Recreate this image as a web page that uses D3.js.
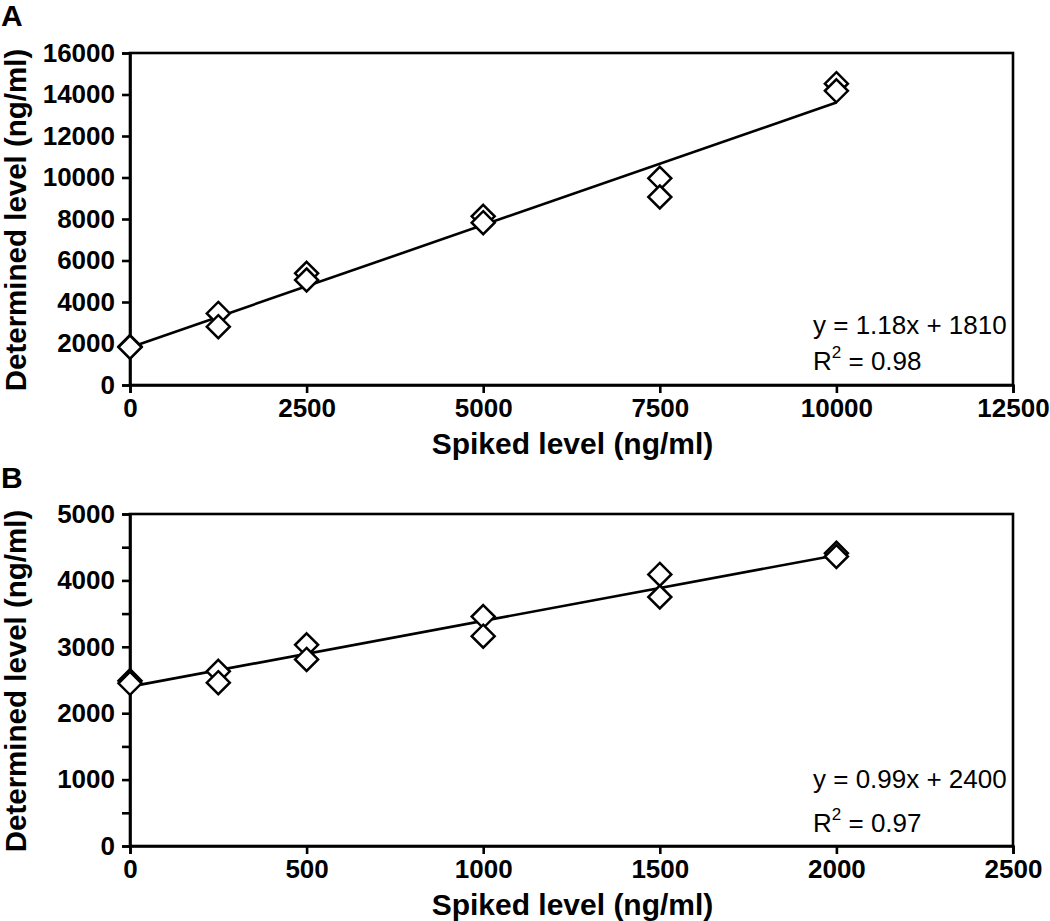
<!DOCTYPE html>
<html>
<head>
<meta charset="utf-8">
<script src="https://cdn.jsdelivr.net/npm/d3@7"></script>
<style>
  html, body { margin: 0; padding: 0; background: #fff; }
  svg text { font-family: "Liberation Sans", Arial, sans-serif; fill: #000; }
</style>
</head>
<body>
<svg id="chart" width="1050" height="921"></svg>
<script>
// ---- Data: panel A ----
const spikedA = [0, 0, 1250, 1250, 2500, 2500, 5000, 5000, 7500, 7500, 10000, 10000];
const determinedA = [1850, 1820, 3450, 2810, 5380, 5060, 8130, 7820, 9960, 9060, 14520, 14180];
const fitA = { slope: 1.18, intercept: 1810, xMin: 0, xMax: 10000 };
const xTicksA = [0, 2500, 5000, 7500, 10000, 12500];
const yTicksA = [0, 2000, 4000, 6000, 8000, 10000, 12000, 14000, 16000];
const eqA = ["y = 1.18x + 1810", "0.98"];

// ---- Data: panel B ----
const spikedB = [0, 0, 250, 250, 500, 500, 1000, 1000, 1500, 1500, 2000, 2000];
const determinedB = [2490, 2450, 2630, 2460, 3030, 2810, 3455, 3160, 4090, 3750, 4410, 4360];
const fitB = { slope: 0.99, intercept: 2400, xMin: 0, xMax: 2000 };
const xTicksB = [0, 500, 1000, 1500, 2000, 2500];
const yTicksB = [0, 500, 1000, 1500, 2000, 2500, 3000, 3500, 4000, 4500, 5000];
const yLabelsB = [0, 1000, 2000, 3000, 4000, 5000];
const eqB = ["y = 0.99x + 2400", "0.97"];

const xTitle = "Spiked level (ng/ml)";
const yTitle = "Determined level (ng/ml)";

const svg = d3.select("#chart");

function panel(cfg) {
  const g = svg.append("g");
  const x = d3.scaleLinear().domain(cfg.xDomain).range([cfg.left, cfg.right]);
  const y = d3.scaleLinear().domain(cfg.yDomain).range([cfg.bottom, cfg.top]);

  // frame
  g.append("rect")
    .attr("x", cfg.left).attr("y", cfg.top)
    .attr("width", cfg.right - cfg.left).attr("height", cfg.bottom - cfg.top)
    .attr("fill", "none").attr("stroke", "#000").attr("stroke-width", 2.6);

  // x axis
  const xa = g.append("g").attr("transform", `translate(0,${cfg.bottom})`)
    .call(d3.axisBottom(x).tickValues(cfg.xTicks).tickSize(8).tickPadding(6).tickFormat(d3.format("d")));
  // y axis
  const ya = g.append("g").attr("transform", `translate(${cfg.left},0)`)
    .call(d3.axisLeft(y).tickValues(cfg.yTicks).tickSize(8).tickPadding(7)
      .tickFormat(d => cfg.yLabels.includes(d) ? d3.format("d")(d) : ""));
  [xa, ya].forEach(a => {
    a.select(".domain").attr("stroke", "#000").attr("stroke-width", 2.6);
    a.selectAll(".tick line").attr("stroke", "#000").attr("stroke-width", 2.6);
    a.selectAll(".tick text").attr("font-size", 26).attr("font-weight", "bold")
      .attr("font-family", "Liberation Sans, Arial, sans-serif").attr("fill", "#000");
  });

  // fit line
  g.append("line")
    .attr("x1", x(cfg.fit.xMin)).attr("y1", y(cfg.fit.slope * cfg.fit.xMin + cfg.fit.intercept))
    .attr("x2", x(cfg.fit.xMax)).attr("y2", y(cfg.fit.slope * cfg.fit.xMax + cfg.fit.intercept))
    .attr("stroke", "#000").attr("stroke-width", 2.6);

  // diamonds
  const pts = cfg.xs.map((v, i) => [v, cfg.ys[i]]);
  const h = 11.5;
  g.selectAll("path.pt").data(pts).enter().append("path")
    .attr("class", "pt")
    .attr("d", d => {
      const cx = x(d[0]), cy = y(d[1]);
      return `M${cx},${cy - h}L${cx + h},${cy}L${cx},${cy + h}L${cx - h},${cy}Z`;
    })
    .attr("fill", "#fff").attr("stroke", "#000").attr("stroke-width", 2.5);

  // equation text
  g.append("text").attr("x", 813).attr("y", cfg.eqY1).attr("font-size", 26).text(cfg.eq[0]);
  const r = g.append("text").attr("x", 813).attr("y", cfg.eqY2).attr("font-size", 26);
  r.append("tspan").text("R");
  r.append("tspan").attr("font-size", 17).attr("dy", -12).text("2");
  r.append("tspan").attr("dy", 12).text(" = " + cfg.eq[1]);

  // axis titles
  g.append("text").attr("x", (cfg.left + cfg.right) / 2 + 1).attr("y", cfg.bottom + 69)
    .attr("text-anchor", "middle").attr("font-size", 30).attr("font-weight", "bold").text(xTitle);
  g.append("text")
    .attr("transform", `translate(26,${(cfg.top + cfg.bottom) / 2 + 1}) rotate(-90)`)
    .attr("text-anchor", "middle").attr("font-size", 29.5).attr("font-weight", "bold").text(yTitle);

  // panel letter
  g.append("text").attr("x", 1).attr("y", cfg.letterY).attr("font-size", 30)
    .attr("font-weight", "bold").text(cfg.letter);
}

panel({
  left: 130, right: 1013, top: 53, bottom: 385,
  xDomain: [0, 12500], yDomain: [0, 16000],
  xTicks: xTicksA, yTicks: yTicksA, yLabels: yTicksA,
  xs: spikedA, ys: determinedA, fit: fitA, eq: eqA,
  eqY1: 334, eqY2: 370, letter: "A", letterY: 26
});

panel({
  left: 130, right: 1013, top: 514, bottom: 846,
  xDomain: [0, 2500], yDomain: [0, 5000],
  xTicks: xTicksB, yTicks: yTicksB, yLabels: yLabelsB,
  xs: spikedB, ys: determinedB, fit: fitB, eq: eqB,
  eqY1: 788, eqY2: 832, letter: "B", letterY: 488
});
</script>
</body>
</html>
